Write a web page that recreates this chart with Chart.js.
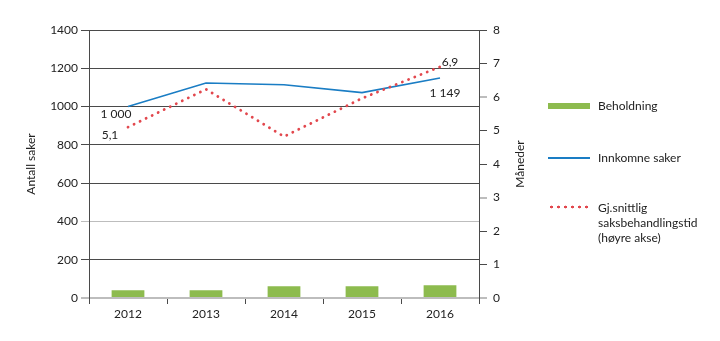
<!DOCTYPE html>
<html>
<head>
<meta charset="utf-8">
<script src="https://cdn.jsdelivr.net/npm/chart.js@4/dist/chart.umd.min.js"></script>
<style>
  html, body { margin: 0; padding: 0; background: #fff; }
  #wrap { position: relative; width: 720px; height: 341px; }
  #legend { position: absolute; left: 548px; top: 0; font-family: Lato, sans-serif; font-size: 12px; color: #222; }
  .item { position: absolute; left: 0; white-space: nowrap; }
  .sym { position: absolute; left: 0; width: 42px; }
  .txt { position: absolute; left: 50px; line-height: 15px; }
</style>
</head>
<body>
<div id="wrap">
  <canvas id="chart" width="720" height="341"></canvas>
  <div id="legend">
    <div class="item" style="top:98px"><div class="sym" style="top:5px;height:6px;background:#8dbb4e"></div><div class="txt">Beholdning</div></div>
    <div class="item" style="top:150px"><div class="sym" style="top:7px;height:2px;background:#1a7dc4"></div><div class="txt">Innkomne saker</div></div>
    <div class="item" style="top:200px"><div class="sym" style="top:5px;height:4px;background:radial-gradient(circle, #e2474d 1.3px, transparent 1.6px) 0 0 / 7px 4px repeat-x"></div><div class="txt">Gj.snittlig<br>saksbehandlingstid<br>(høyre akse)</div></div>
  </div>
</div>
<script>
// data
const years = ['2012', '2013', '2014', '2015', '2016'];
const beholdning = [41, 40, 62, 61, 67];
const innkomne = [1000, 1123, 1114, 1073, 1149];
const snittTid = [5.1, 6.23, 4.82, 5.96, 6.9];
const leftTicks = [0, 200, 400, 600, 800, 1000, 1200, 1400];
const rightTicks = [0, 1, 2, 3, 4, 5, 6, 7, 8];

const FONT = 'Lato, sans-serif';
const dark = '#4a4a4a';
const light = '#bdbdbd';

// value labels and axis titles
const extras = {
  id: 'extras',
  afterDatasetsDraw(chart) {
    const ctx = chart.ctx;
    const x = chart.scales.x, yl = chart.scales.y, yr = chart.scales.y1;
    ctx.save();
    ctx.fillStyle = '#222';
    ctx.font = '12px ' + FONT;
    ctx.textAlign = 'center';
    ctx.textBaseline = 'middle';
    ctx.fillText('1 000', x.getPixelForValue(0) - 12, yl.getPixelForValue(innkomne[0]) + 8);
    ctx.fillText('5,1', x.getPixelForValue(0) - 18, yr.getPixelForValue(snittTid[0]) + 8);
    ctx.fillText('6,9', x.getPixelForValue(4) + 10, yr.getPixelForValue(snittTid[4]) - 5);
    ctx.fillText('1 149', x.getPixelForValue(4) + 5, yl.getPixelForValue(innkomne[4]) + 15);

    const midY = (chart.chartArea.top + chart.chartArea.bottom) / 2;
    ctx.translate(31, midY);
    ctx.rotate(-Math.PI / 2);
    ctx.fillText('Antall saker', 0, 0);
    ctx.restore();
    ctx.save();
    ctx.fillStyle = '#222';
    ctx.font = '12px ' + FONT;
    ctx.textAlign = 'center';
    ctx.textBaseline = 'middle';
    ctx.translate(520, midY);
    ctx.rotate(-Math.PI / 2);
    ctx.fillText('Måneder', 0, 0);
    ctx.restore();
  }
};

new Chart(document.getElementById('chart'), {
  data: {
    labels: years,
    datasets: [
      {
        type: 'line', label: 'Gj.snittlig saksbehandlingstid (høyre akse)', data: snittTid, yAxisID: 'y1',
        borderColor: '#e2474d', borderWidth: 2.8, borderDash: [0.1, 6.6], borderCapStyle: 'round',
        pointRadius: 0, tension: 0, order: 1
      },
      {
        type: 'line', label: 'Innkomne saker', data: innkomne, yAxisID: 'y',
        borderColor: '#1a7dc4', borderWidth: 1.6, pointRadius: 0, tension: 0, order: 2
      },
      {
        type: 'bar', label: 'Beholdning', data: beholdning, yAxisID: 'y',
        backgroundColor: '#8dbb4e', barPercentage: 0.42, categoryPercentage: 1, order: 3
      }
    ]
  },
  options: {
    responsive: false,
    animation: false,
    layout: { padding: { top: 30, right: 181, bottom: 13, left: 0 } },
    plugins: { legend: { display: false }, tooltip: { enabled: false } },
    scales: {
      x: {
        offset: true,
        afterFit(s) { s.height = 30; },
        grid: { offset: true, drawOnChartArea: false, color: dark, tickLength: 6 },
        border: { display: false },
        ticks: { color: '#222', font: { family: FONT, size: 12 }, padding: 3 }
      },
      y: {
        position: 'left', min: 0, max: 1400,
        afterFit(s) { s.width = 89; },
        afterBuildTicks(s) { s.ticks = leftTicks.map(v => ({ value: v })); },
        grid: {
          color: c => (c.tick.value === 0 || c.tick.value === 400) ? light : dark,
          lineWidth: c => c.tick.value === 0 ? 2 : 1,
          tickLength: 8
        },
        border: { color: dark, width: 1 },
        ticks: { color: '#222', font: { family: FONT, size: 12 }, padding: 3, callback: v => String(v) }
      },
      y1: {
        position: 'right', min: 0, max: 8,
        afterFit(s) { s.width = 60; },
        afterBuildTicks(s) { s.ticks = rightTicks.map(v => ({ value: v })); },
        grid: {
          drawOnChartArea: false,
          color: c => (c.tick.value === 3 || c.tick.value === 6 || c.tick.value === 0) ? light : dark,
          lineWidth: c => (c.tick.value === 0 || c.tick.value === 3 || c.tick.value === 6) ? 2 : 1,
          tickLength: 8
        },
        border: { color: dark, width: 1 },
        ticks: { color: '#222', font: { family: FONT, size: 12 }, padding: 6, callback: v => String(v) }
      }
    }
  },
  plugins: [extras]
});
</script>
</body>
</html>
